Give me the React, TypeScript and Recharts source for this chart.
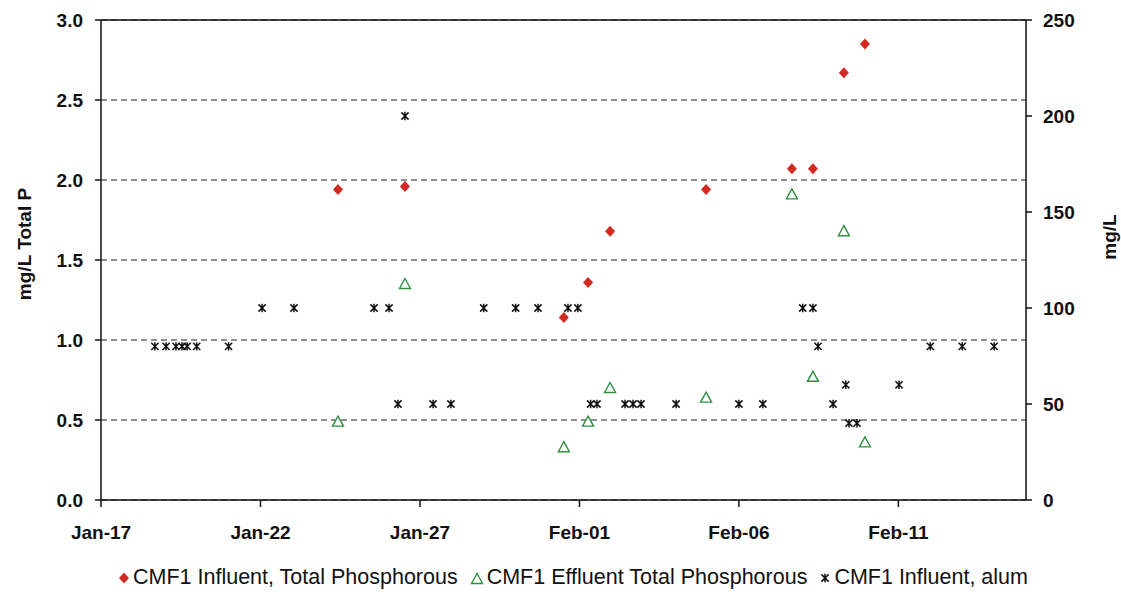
import { CartesianGrid, Label, ReferenceLine, Scatter, ScatterChart, XAxis, YAxis } from "recharts";

// x values are day numbers counted from Jan 1 (Feb-01 = 32); fractions are time of sampling
const tpDays = [24.43, 26.53, 31.51, 32.27, 32.96, 35.97, 38.66, 39.32, 40.29, 40.95];
const influentTP = [1.94, 1.96, 1.14, 1.36, 1.68, 1.94, 2.07, 2.07, 2.67, 2.85];
const effluentTP = [0.49, 1.35, 0.33, 0.49, 0.7, 0.64, 1.91, 0.77, 1.68, 0.36];

const alumDays = [
  18.69, 19.04, 19.35, 19.54, 19.7, 20.0, 21.0, 22.05, 23.05, 25.56, 26.03, 26.31, 26.53,
  27.41, 27.97, 29.0, 30.0, 30.7, 31.64, 31.95, 32.35, 32.55, 33.43, 33.68, 33.93, 35.03,
  37.0, 37.75, 39.0, 39.32, 39.48, 39.95, 40.35, 40.45, 40.7, 42.02, 43.0, 44.0, 45.0
];
const alumDose = [
  80, 80, 80, 80, 80, 80, 80, 100, 100, 100, 100, 50, 200,
  50, 50, 100, 100, 100, 100, 100, 50, 50, 50, 50, 50, 50,
  50, 50, 100, 100, 80, 50, 60, 40, 40, 60, 80, 80, 80
];

const dayTicks = [17, 22, 27, 32, 37, 42];
const tpTicks = [0, 0.5, 1, 1.5, 2, 2.5, 3];
const alumTicks = [0, 50, 100, 150, 200, 250];

const seriesNames = [
  "CMF1 Influent, Total Phosphorous",
  "CMF1 Effluent Total Phosphorous",
  "CMF1 Influent, alum"
];

const RED = "#d22a22";
const GREEN = "#2f8f3f";
const INK = "#111";
const FONT = "'Liberation Sans', Arial, sans-serif";

const influentData = tpDays.map((x, i) => ({ x, y: influentTP[i] }));
const effluentData = tpDays.map((x, i) => ({ x, y: effluentTP[i] }));
const alumData = alumDays.map((x, i) => ({ x, y: alumDose[i] }));

const dayLabel = (d: number) =>
  d <= 31 ? `Jan-${d}` : `Feb-${String(d - 31).padStart(2, "0")}`;

function Diamond({ cx, cy }: any) {
  return <path d={`M${cx},${cy - 5.5}L${cx + 5},${cy}L${cx},${cy + 5.5}L${cx - 5},${cy}Z`} fill={RED} />;
}

function Triangle({ cx, cy }: any) {
  return (
    <path
      d={`M${cx},${cy - 5.5}L${cx + 5.5},${cy + 4.5}L${cx - 5.5},${cy + 4.5}Z`}
      fill="#fff"
      stroke={GREEN}
      strokeWidth={1.4}
    />
  );
}

function Asterisk({ cx, cy }: any) {
  const r = 3.6;
  return (
    <path
      d={`M${cx - r},${cy - r}L${cx + r},${cy + r}M${cx + r},${cy - r}L${cx - r},${cy + r}M${cx},${cy - r - 0.6}L${cx},${cy + r + 0.6}`}
      stroke={INK}
      strokeWidth={1.5}
      fill="none"
    />
  );
}

// rotated axis title placed inside the axis band; fx = horizontal spot in the band, lift = shift up from middle
function axisTitle(text: string, fx: number, lift: number) {
  return (props: any) => {
    const { x, y, width, height } = props.viewBox;
    const cx = x + width * fx;
    const cy = y + height / 2 - lift;
    return (
      <text
        transform={`translate(${cx},${cy}) rotate(-90)`}
        textAnchor="middle"
        dominantBaseline="central"
        fill={INK}
        fontSize={19}
        fontWeight={700}
        fontFamily={FONT}
      >
        {text}
      </text>
    );
  };
}

const legendIcons = [
  <svg width={12} height={14} key="d"><Diamond cx={6} cy={7} /></svg>,
  <svg width={14} height={14} key="t"><Triangle cx={7} cy={8} /></svg>,
  <svg width={12} height={14} key="a"><Asterisk cx={6} cy={7} /></svg>
];

const tickStyle = { fill: INK, fontSize: 19, fontWeight: 700, fontFamily: FONT };
const axisStroke = { stroke: INK, strokeWidth: 1.5 };

export default function App() {
  return (
    <div style={{ position: "absolute", left: 0, top: 0, width: 1121, height: 592, background: "#fff", fontFamily: FONT }}>
      <ScatterChart width={1121} height={592} margin={{ top: 20, right: 0, bottom: 62, left: 0 }}>
        <CartesianGrid yAxisId="left" horizontal vertical={false} stroke="#222" strokeWidth={1.1} strokeDasharray="6 4" />
        <XAxis
          type="number"
          dataKey="x"
          domain={[17, 46]}
          ticks={dayTicks}
          tickFormatter={dayLabel}
          height={30}
          tick={tickStyle}
          tickSize={7}
          tickMargin={19}
          axisLine={axisStroke}
          tickLine={axisStroke}
          allowDataOverflow
        />
        <YAxis
          yAxisId="left"
          type="number"
          dataKey="y"
          domain={[0, 3]}
          ticks={tpTicks}
          tickFormatter={(v: number) => v.toFixed(1)}
          width={101}
          tick={tickStyle}
          tickSize={6}
          tickMargin={12}
          axisLine={axisStroke}
          tickLine={axisStroke}
        >
          <Label content={axisTitle("mg/L Total P", 0.24, 16)} />
        </YAxis>
        <YAxis
          yAxisId="right"
          orientation="right"
          type="number"
          dataKey="y"
          domain={[0, 250]}
          ticks={alumTicks}
          width={95}
          tick={tickStyle}
          tickSize={6}
          tickMargin={11}
          axisLine={axisStroke}
          tickLine={axisStroke}
        >
          <Label content={axisTitle("mg/L", 0.88, 23)} />
        </YAxis>
        <ReferenceLine yAxisId="left" y={3} stroke={INK} strokeWidth={1.5} />
        <Scatter
          name={seriesNames[2]}
          yAxisId="right"
          data={alumData}
          shape={(p: any) => <Asterisk cx={p.cx} cy={p.cy} />}
          isAnimationActive={false}
        />
        <Scatter
          name={seriesNames[1]}
          yAxisId="left"
          data={effluentData}
          shape={(p: any) => <Triangle cx={p.cx} cy={p.cy} />}
          isAnimationActive={false}
        />
        <Scatter
          name={seriesNames[0]}
          yAxisId="left"
          data={influentData}
          shape={(p: any) => <Diamond cx={p.cx} cy={p.cy} />}
          isAnimationActive={false}
        />
      </ScatterChart>
      <div
        style={{
          position: "absolute",
          left: 118,
          top: 565,
          display: "flex",
          alignItems: "center",
          fontSize: 21.5,
          color: INK,
          whiteSpace: "nowrap"
        }}
      >
        {seriesNames.map((name, i) => (
          <span key={name} style={{ display: "flex", alignItems: "center", marginRight: 12 }}>
            {legendIcons[i]}
            <span style={{ marginLeft: 3 }}>{name}</span>
          </span>
        ))}
      </div>
    </div>
  );
}
